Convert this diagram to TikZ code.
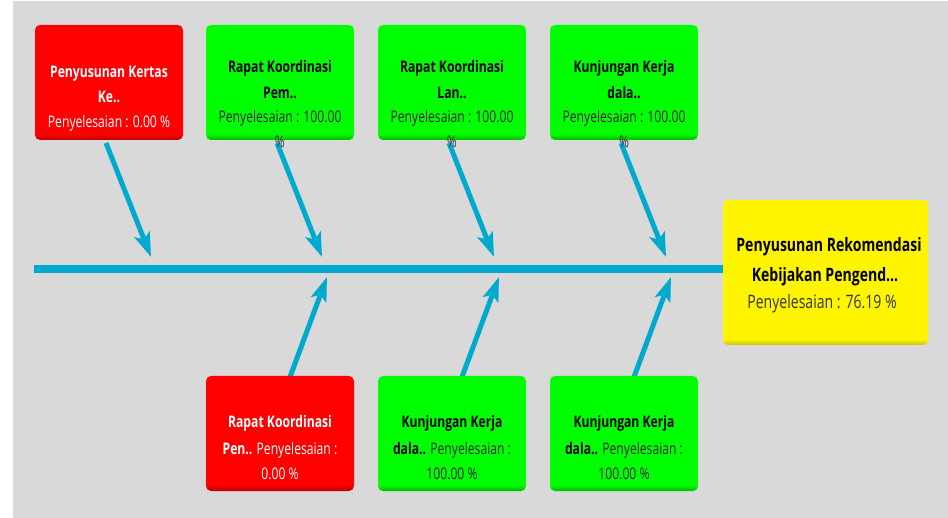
\documentclass[tikz,border=0pt]{standalone}
\usepackage{fontspec}
\setmainfont{Open Sans}[FakeStretch=0.76]
\usetikzlibrary{arrows.meta}

\definecolor{canvas}{HTML}{D9D9D9}
\definecolor{bone}{HTML}{00A9CE}
\definecolor{boxred}{HTML}{FF0000}
\definecolor{boxgreen}{HTML}{00FF00}
\definecolor{boxyellow}{HTML}{FFF500}
\definecolor{pcttext}{HTML}{333333}

% box fills: flat colour with a darker band along the bottom edge
\pgfdeclareverticalshading{redfill}{100bp}{color(0bp)=(boxred!70!black); color(25bp)=(boxred!70!black); color(27.5bp)=(boxred); color(100bp)=(boxred)}
\pgfdeclareverticalshading{greenfill}{100bp}{color(0bp)=(boxgreen!70!black); color(25bp)=(boxgreen!70!black); color(27.5bp)=(boxgreen); color(100bp)=(boxgreen)}
\pgfdeclareverticalshading{yellowfill}{100bp}{color(0bp)=(boxyellow!80!black); color(25bp)=(boxyellow!80!black); color(27bp)=(boxyellow); color(100bp)=(boxyellow)}

\tikzset{
  cause/.style={rectangle, rounded corners=5pt, inner sep=0pt,
    minimum width=148pt, minimum height=115pt},
  effect/.style={rectangle, rounded corners=5pt, inner sep=0pt,
    minimum width=205pt, minimum height=145pt, shade, shading=yellowfill},
  redbox/.style={cause, shade, shading=redfill},
  greenbox/.style={cause, shade, shading=greenfill},
  ttl/.style={inner sep=0pt, anchor=base, font=\fontsize{16}{19}\selectfont\bfseries},
  sub/.style={inner sep=0pt, anchor=base, font=\fontsize{16}{19}\selectfont},
  bigttl/.style={inner sep=0pt, anchor=base, font=\fontsize{18.5}{22}\selectfont\bfseries},
  bigsub/.style={inner sep=0pt, anchor=base, font=\fontsize{18.5}{22}\selectfont},
  spine/.style={draw=bone, line width=7.5pt},
  rib/.style={draw=bone, line width=5pt,
    -{Stealth[length=24pt, width=16pt, inset=5pt]}},
}

\begin{document}
\begin{tikzpicture}[x=1pt, y=-1pt]
\useasboundingbox (0,0) rectangle (948,518);
\fill[white] (0,0) rectangle (948,518);
\fill[canvas] (13,1) rectangle (948,518);

% head of the fish
\node[effect] (head) at (825.5,272.5) {};

% spine
\coordinate (tail) at (34,269);
\path[spine] (tail) -- (head.west |- tail);

% points where the ribs meet the spine
\coordinate (s1) at (151,257);
\coordinate (s2) at (322,257);
\coordinate (s3) at (494,257);
\coordinate (s4) at (666,257);
\coordinate (s5) at (327,277);
\coordinate (s6) at (499,277);
\coordinate (s7) at (671,277);

% rib starting points
\coordinate (r1) at (106,143);
\coordinate (r2) at (277,143);
\coordinate (r3) at (449,143);
\coordinate (r4) at (621,143);
\coordinate (r5) at (290,377);
\coordinate (r6) at (462,377);
\coordinate (r7) at (634,377);

\foreach \i in {1,...,7} \path[rib] (r\i) -- (s\i);

% cause boxes
\node[redbox]   (c1) at (109,82.5)  {};
\node[greenbox] (c2) at (280,82.5)  {};
\node[greenbox] (c3) at (452,82.5)  {};
\node[greenbox] (c4) at (624,82.5)  {};
\node[redbox]   (c5) at (280,433.5) {};
\node[greenbox] (c6) at (452,433.5) {};
\node[greenbox] (c7) at (624,433.5) {};

% texts of the upper causes
\node[ttl, white] (c1a) at (109,78)  {Penyusunan Kertas};
\node[ttl, white] (c1b) at (109,103) {Ke..};
\node[sub, white] (c1c) at (109,128) {Penyelesaian : 0.00 \%};

\node[ttl] (c2a) at (280,73)  {Rapat Koordinasi};
\node[ttl] (c2b) at (280,99)  {Pem..};
\node[sub, black!85] (c2c) at (280,123) {Penyelesaian : 100.00};
\node[sub, pcttext] (c2d) at (280,148) {\%};

\node[ttl] (c3a) at (452,73)  {Rapat Koordinasi};
\node[ttl] (c3b) at (452,99)  {Lan..};
\node[sub, black!85] (c3c) at (452,123) {Penyelesaian : 100.00};
\node[sub, pcttext] (c3d) at (452,148) {\%};

\node[ttl] (c4a) at (624,73)  {Kunjungan Kerja};
\node[ttl] (c4b) at (624,99)  {dala..};
\node[sub, black!85] (c4c) at (624,123) {Penyelesaian : 100.00};
\node[sub, pcttext] (c4d) at (624,148) {\%};

% texts of the lower causes
\node[ttl, white] (c5a) at (280,428) {Rapat Koordinasi};
\node[sub, white] (c5b) at (280,454) {\textbf{Pen..} Penyelesaian :};
\node[sub, white] (c5c) at (280,479) {0.00 \%};

\node[ttl] (c6a) at (452,428) {Kunjungan Kerja};
\node[sub, black!85] (c6b) at (452,454) {\textbf{\color{black}dala..} Penyelesaian :};
\node[sub, black!85] (c6c) at (452,479) {100.00 \%};

\node[ttl] (c7a) at (624,428) {Kunjungan Kerja};
\node[sub, black!85] (c7b) at (624,454) {\textbf{\color{black}dala..} Penyelesaian :};
\node[sub, black!85] (c7c) at (624,479) {100.00 \%};

% text of the head
\node[bigttl] (ha) at (829,252) {Penyusunan Rekomendasi};
\node[bigttl] (hb) at (825,282) {Kebijakan Pengend...};
\node[bigsub, black!80] (hc) at (822,309) {Penyelesaian : 76.19 \%};
\end{tikzpicture}
\end{document}
